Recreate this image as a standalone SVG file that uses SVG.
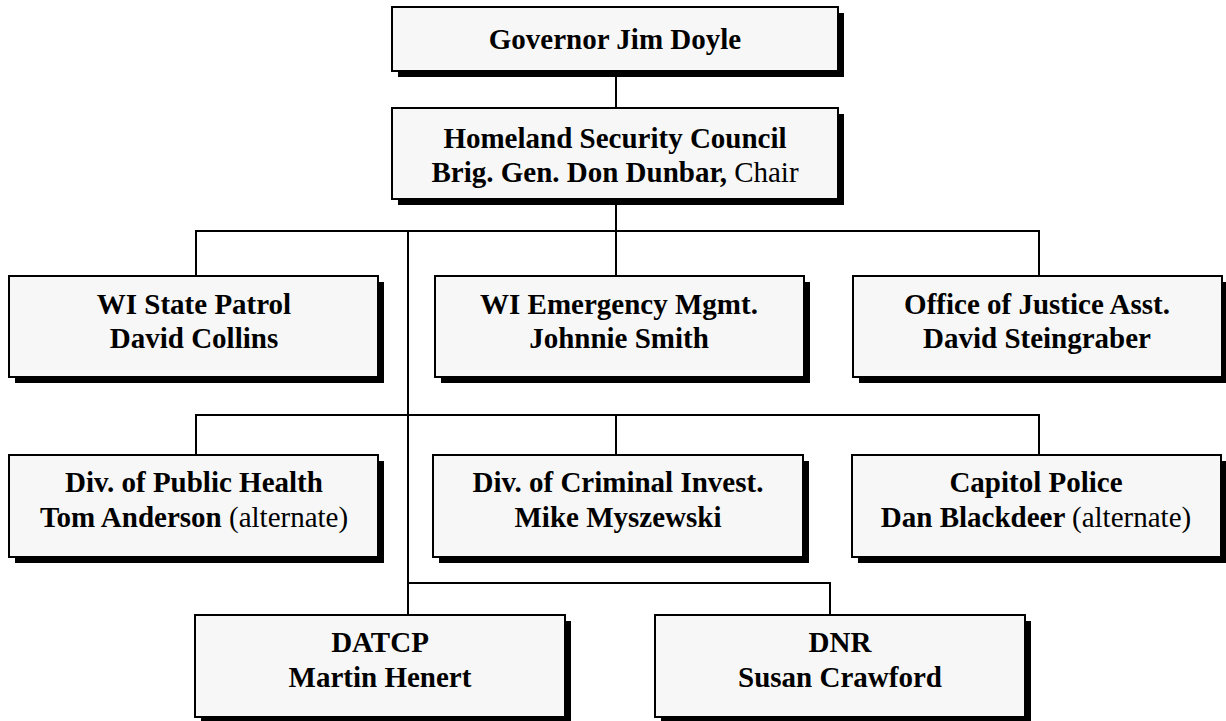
<svg xmlns="http://www.w3.org/2000/svg" width="1226" height="721" viewBox="0 0 1226 721">
<style>
.shadow{fill:#000}
.box{fill:#f7f7f7;stroke:#000;stroke-width:2}
.t{font-family:"Liberation Serif","Times New Roman",serif;font-size:29px;font-weight:bold;text-anchor:middle;fill:#000}
.n{font-weight:normal}
.conn{fill:none;stroke:#000;stroke-width:2}
</style>
<rect width="1226" height="721" fill="#fff"/>
<g id="connectors" class="conn">
<path d="M616 71V108"/>
<path d="M616 199V276"/>
<path d="M196 276V231H1039V276"/>
<path d="M408 231V583"/>
<path d="M196 455V415H1039V455"/>
<path d="M616 415V455"/>
<path d="M408 615V583H830V615"/>
</g>
<g id="governor">
<rect class="shadow" x="398" y="13" width="446" height="64"/>
<rect class="box" x="392" y="7" width="446" height="64"/>
<text class="t" x="615" y="49">Governor Jim Doyle</text>
</g>
<g id="council">
<rect class="shadow" x="398" y="114" width="446" height="91"/>
<rect class="box" x="392" y="108" width="446" height="91"/>
<text class="t" x="615" y="148">Homeland Security Council</text>
<text class="t" x="615" y="182">Brig. Gen. Don Dunbar, <tspan class="n">Chair</tspan></text>
</g>
<g id="state-patrol">
<rect class="shadow" x="15" y="282" width="369" height="101"/>
<rect class="box" x="9" y="276" width="369" height="101"/>
<text class="t" x="194" y="314">WI State Patrol</text>
<text class="t" x="194" y="348">David Collins</text>
</g>
<g id="emergency-mgmt">
<rect class="shadow" x="441" y="282" width="369" height="101"/>
<rect class="box" x="435" y="276" width="369" height="101"/>
<text class="t" x="619" y="314">WI Emergency Mgmt.</text>
<text class="t" x="619" y="348">Johnnie Smith</text>
</g>
<g id="justice-asst">
<rect class="shadow" x="859" y="282" width="369" height="101"/>
<rect class="box" x="853" y="276" width="369" height="101"/>
<text class="t" x="1037" y="314">Office of Justice Asst.</text>
<text class="t" x="1037" y="348">David Steingraber</text>
</g>
<g id="public-health">
<rect class="shadow" x="15" y="461" width="369" height="102"/>
<rect class="box" x="9" y="455" width="369" height="102"/>
<text class="t" x="194" y="492">Div. of Public Health</text>
<text class="t" x="194" y="527">Tom Anderson <tspan class="n">(alternate)</tspan></text>
</g>
<g id="criminal-invest">
<rect class="shadow" x="439" y="461" width="370" height="102"/>
<rect class="box" x="433" y="455" width="370" height="102"/>
<text class="t" x="618" y="492">Div. of Criminal Invest.</text>
<text class="t" x="618" y="527">Mike Myszewski</text>
</g>
<g id="capitol-police">
<rect class="shadow" x="858" y="461" width="369" height="102"/>
<rect class="box" x="852" y="455" width="369" height="102"/>
<text class="t" x="1036" y="492">Capitol Police</text>
<text class="t" x="1036" y="527">Dan Blackdeer <tspan class="n">(alternate)</tspan></text>
</g>
<g id="datcp">
<rect class="shadow" x="201" y="621" width="370" height="102"/>
<rect class="box" x="195" y="615" width="370" height="102"/>
<text class="t" x="380" y="652">DATCP</text>
<text class="t" x="380" y="687">Martin Henert</text>
</g>
<g id="dnr">
<rect class="shadow" x="661" y="621" width="370" height="102"/>
<rect class="box" x="655" y="615" width="370" height="102"/>
<text class="t" x="840" y="652">DNR</text>
<text class="t" x="840" y="687">Susan Crawford</text>
</g>
</svg>
